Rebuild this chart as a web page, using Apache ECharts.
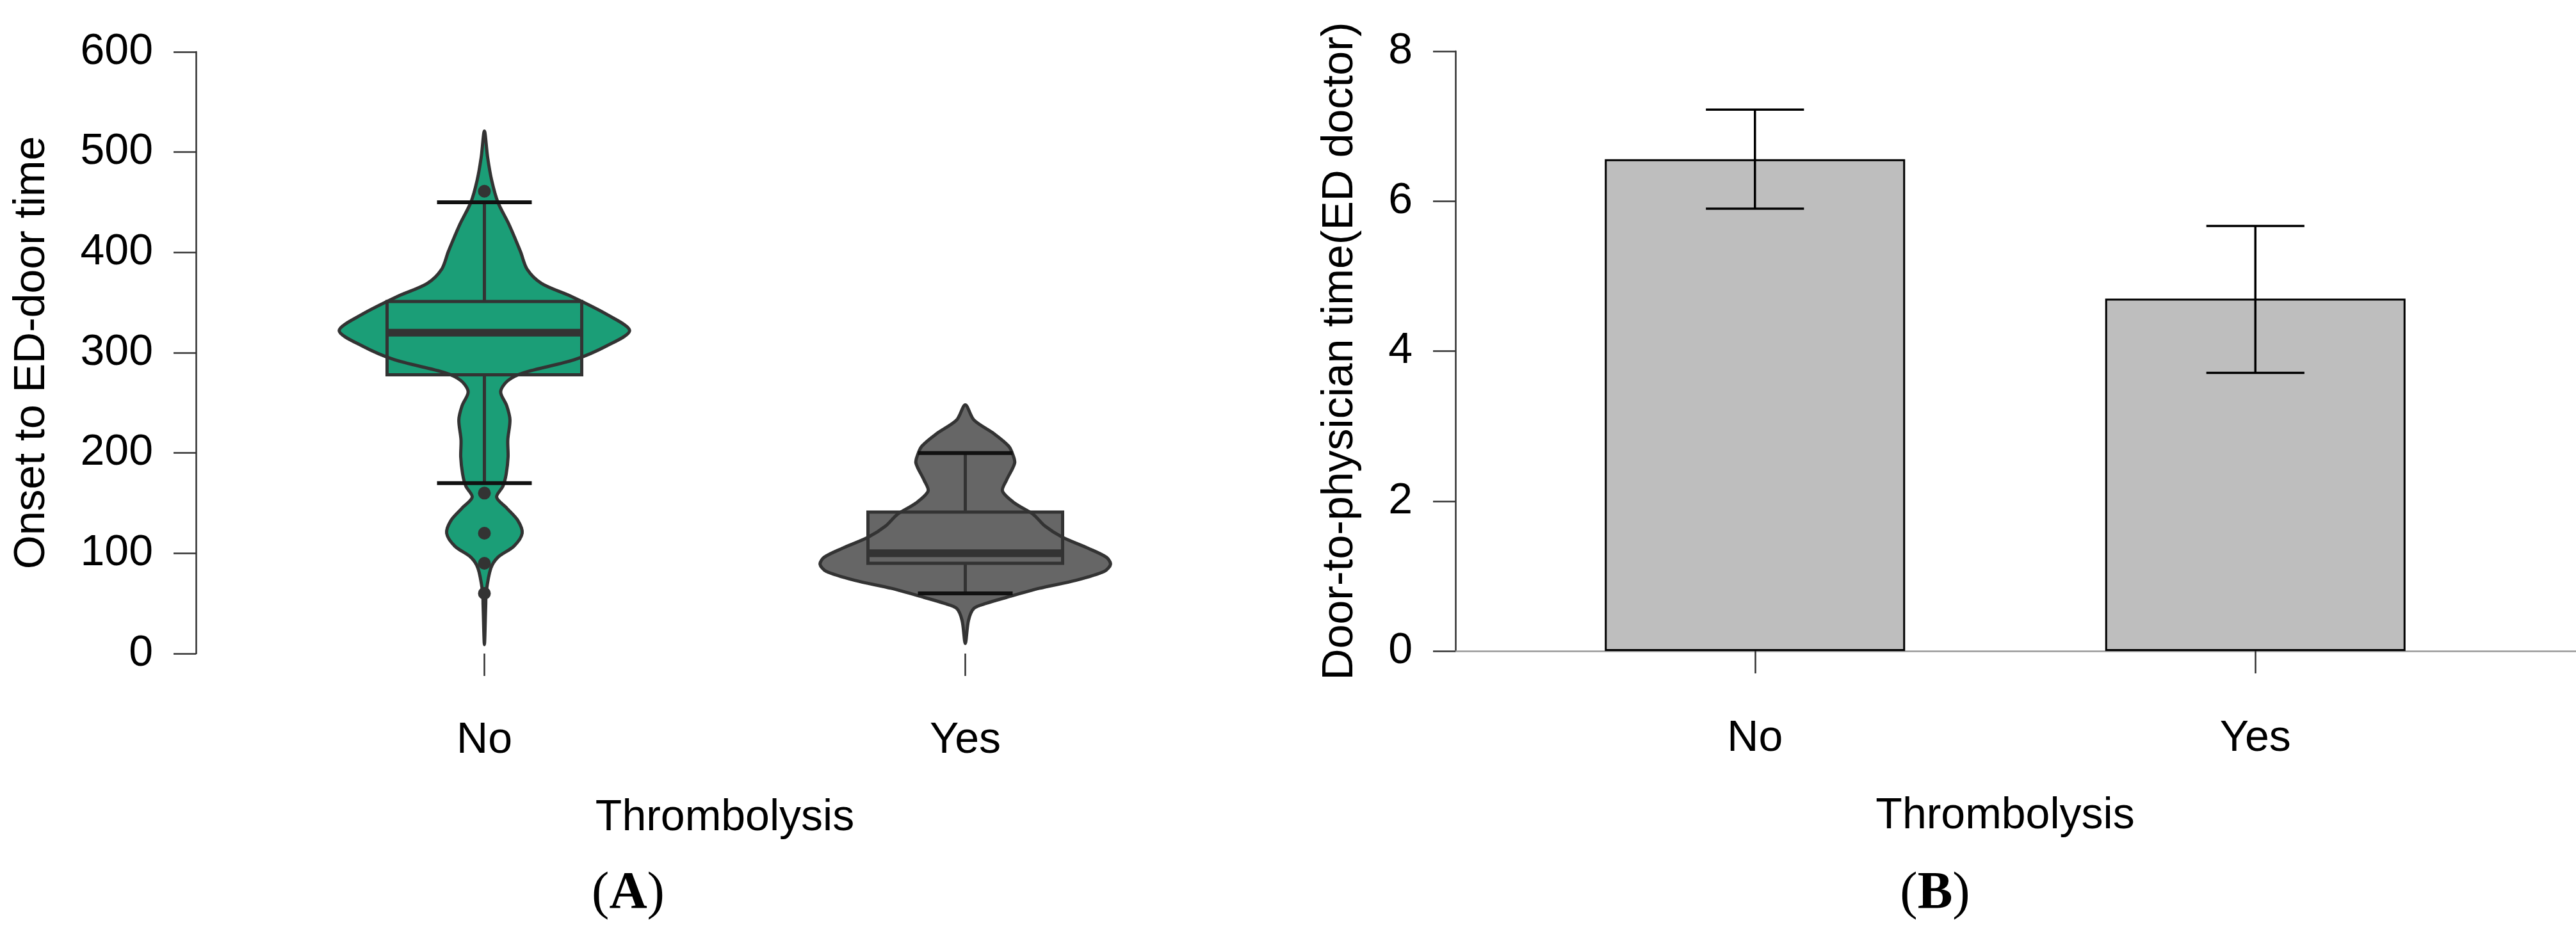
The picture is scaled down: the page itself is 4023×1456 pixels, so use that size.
<!DOCTYPE html>
<html><head><meta charset="utf-8">
<script src="https://cdn.jsdelivr.net/npm/echarts@6/dist/echarts.min.js"></script>
<style>html,body{margin:0;padding:0;background:#fff}#c{width:4023px;height:1456px}</style>
</head><body><div id="c"></div>
<script>
// ---------- data ----------
const categories = ['No', 'Yes'];

// Panel A: violin outlines (value, relative density; max = 1)
const violinNoValues  = [521, 495, 472, 450, 428, 401, 383, 369, 356, 338, 322, 307, 293, 280, 272, 261, 247, 233, 213, 196, 179, 167, 156, 145, 133, 120, 107, 96, 85, 62, 48, 9];
const violinNoDensity = [0, 0.022, 0.05, 0.093, 0.169, 0.248, 0.295, 0.394, 0.6, 0.845, 1.0, 0.845, 0.62, 0.27, 0.16, 0.112, 0.154, 0.176, 0.161, 0.163, 0.15, 0.128, 0.084, 0.154, 0.229, 0.26, 0.203, 0.093, 0.044, 0.013, 0.009, 0];
const violinYesValues  = [248, 233, 219, 207, 199, 190, 173, 162, 150, 139, 127, 116, 105, 96, 89, 82, 73, 65, 56, 50, 45, 33, 10];
const violinYesDensity = [0, 0.059, 0.2, 0.298, 0.326, 0.34, 0.284, 0.256, 0.34, 0.466, 0.55, 0.669, 0.846, 0.972, 1.0, 0.958, 0.761, 0.508, 0.284, 0.143, 0.059, 0.022, 0];
// box stats: [lower whisker, Q1, median, Q3, upper whisker]
const boxNo  = [170, 278, 320, 351, 450];
const boxYes = [60, 90, 100, 141, 200];
const outliersNo  = [461, 160, 120, 90, 60];
const outliersYes = [];
const yTicksA = { min: 0, max: 600, interval: 100 };

// Panel B: bar means with error bars
const barMeans = [6.56, 4.70];
const barLower = [5.90, 3.71];
const barUpper = [7.22, 5.67];
const yTicksB = { min: 0, max: 8, interval: 2 };

// ---------- styling ----------
const FONT = 'Liberation Sans, Arial, Helvetica, sans-serif';
const violinColors = ['#1b9e77', '#666666'];
const violinValues = [violinNoValues, violinYesValues];
const violinDensity = [violinNoDensity, violinYesDensity];
const boxStats = [boxNo, boxYes];
const outliers = [outliersNo, outliersYes];

function renderViolin(params, api) {
  const i = api.value(0);
  const vals = violinValues[i], dens = violinDensity[i], box = boxStats[i];
  const band = api.size([1, 0])[0];
  const cx = api.coord([i, 0])[0];
  const W = band * 0.302, BW = band * 0.2024, CW = band * 0.0985;
  const y = v => api.coord([i, v])[1];
  const right = vals.map((v, k) => [cx + dens[k] * W, y(v)]);
  const left = [];
  for (let k = vals.length - 2; k >= 1; k--) left.push([cx - dens[k] * W, y(vals[k])]);
  const pts = right.concat(left);
  const color = violinColors[i];
  const ln = (x1, y1, x2, y2, stroke, lw) => ({ type: 'line', shape: { x1, y1, x2, y2 }, style: { stroke, lineWidth: lw } });
  const children = [
    { type: 'polygon', shape: { points: pts, smooth: 0.3 }, style: { fill: color, stroke: null } },
    { type: 'rect', shape: { x: cx - BW, y: y(box[3]), width: 2 * BW, height: y(box[1]) - y(box[3]) }, style: { fill: color, stroke: '#333', lineWidth: 5 } },
    { type: 'polygon', shape: { points: pts, smooth: 0.3 }, style: { fill: null, stroke: '#333', lineWidth: 5 } },
    ln(cx, y(box[3]), cx, y(box[4]), '#333', 5),
    ln(cx, y(box[1]), cx, y(box[0]), '#333', 5),
    ln(cx - CW, y(box[4]), cx + CW, y(box[4]), '#111', 6),
    ln(cx - CW, y(box[0]), cx + CW, y(box[0]), '#111', 6),
    ln(cx - BW, y(box[2]), cx + BW, y(box[2]), '#333', 12)
  ];
  outliers[i].forEach(v => children.push({ type: 'circle', shape: { cx, cy: y(v), r: 10 }, style: { fill: '#333' } }));
  return { type: 'group', children };
}

function renderErr(params, api) {
  const i = api.value(0);
  const band = api.size([1, 0])[0];
  const lo = api.coord([i, api.value(1)]);
  const hi = api.coord([i, api.value(2)]);
  const cw = band * 0.098;
  const st = { stroke: '#000', lineWidth: 3.5 };
  return { type: 'group', children: [
    { type: 'line', shape: { x1: lo[0], y1: lo[1], x2: hi[0], y2: hi[1] }, style: st },
    { type: 'line', shape: { x1: lo[0] - cw, y1: lo[1], x2: lo[0] + cw, y2: lo[1] }, style: st },
    { type: 'line', shape: { x1: hi[0] - cw, y1: hi[1], x2: hi[0] + cw, y2: hi[1] }, style: st }
  ]};
}

const axisText = { fontSize: 68, color: '#000', fontFamily: FONT };
const tickLine = { color: '#333', width: 2.5 };

const chart = echarts.init(document.getElementById('c'), null, { renderer: 'canvas' });
chart.setOption({
  animation: false,
  backgroundColor: '#fff',
  grid: [
    { left: 381, width: 1502, top: 81, bottom: 435, outerBoundsMode: 'none' },
    { left: 2350, width: 1563, top: 80, bottom: 439, outerBoundsMode: 'none' },
    { left: 2273, right: 0, top: 80, bottom: 439, outerBoundsMode: 'none' }
  ],
  xAxis: [
    { type: 'category', gridIndex: 0, data: categories, offset: 47,
      axisLine: { show: false }, axisTick: { show: true, alignWithLabel: true, length: 35, lineStyle: tickLine },
      axisLabel: Object.assign({ margin: 55 }, axisText), splitLine: { show: false },
      name: 'Thrombolysis', nameLocation: 'middle', nameGap: 176, nameTextStyle: axisText },
    { type: 'category', gridIndex: 1, data: categories, offset: 48,
      axisLine: { show: false }, axisTick: { show: true, alignWithLabel: true, length: 35, lineStyle: tickLine },
      axisLabel: Object.assign({ margin: 55 }, axisText), splitLine: { show: false },
      name: 'Thrombolysis', nameLocation: 'middle', nameGap: 176, nameTextStyle: axisText },
    { type: 'value', gridIndex: 2, min: 0, max: 1,
      axisLine: { show: true, lineStyle: { color: '#999', width: 2.5 } }, axisTick: { show: false },
      axisLabel: { show: false }, splitLine: { show: false } }
  ],
  yAxis: [
    { type: 'value', gridIndex: 0, min: yTicksA.min, max: yTicksA.max, interval: yTicksA.interval, offset: 75,
      axisLine: { show: true, lineStyle: tickLine }, axisTick: { show: true, length: 35, lineStyle: tickLine },
      axisLabel: Object.assign({ margin: 67 }, axisText), splitLine: { show: false },
      name: 'Onset to ED-door time', nameLocation: 'middle', nameGap: 222, nameTextStyle: axisText },
    { type: 'value', gridIndex: 1, min: yTicksB.min, max: yTicksB.max, show: false, splitLine: { show: false } },
    { type: 'value', gridIndex: 2, min: yTicksB.min, max: yTicksB.max, interval: yTicksB.interval,
      axisLine: { show: true, lineStyle: tickLine }, axisTick: { show: true, length: 35, lineStyle: tickLine },
      axisLabel: Object.assign({ margin: 67 }, axisText), splitLine: { show: false },
      name: 'Door-to-physician time(ED doctor)', nameLocation: 'middle', nameGap: 146, nameTextStyle: axisText }
  ],
  series: [
    { type: 'custom', xAxisIndex: 0, yAxisIndex: 0, renderItem: renderViolin,
      data: categories.map((c, i) => [i, boxStats[i][2]]), clip: false, z: 3 },
    { type: 'bar', xAxisIndex: 1, yAxisIndex: 1, data: barMeans, barWidth: 469,
      itemStyle: { color: '#bebebe', borderColor: '#000', borderWidth: 3 }, z: 3 },
    { type: 'custom', xAxisIndex: 1, yAxisIndex: 1, renderItem: renderErr,
      data: categories.map((c, i) => [i, barLower[i], barUpper[i]]), z: 4 }
  ],
  graphic: [
    { type: 'text', x: 981, y: 1397, style: { text: '{p|(}{b|A}{p|)}', align: 'center', verticalAlign: 'middle',
      rich: { p: { fontSize: 82, fontFamily: 'Liberation Serif, Times New Roman, serif', fill: '#000' },
              b: { fontSize: 82, fontWeight: 'bold', fontFamily: 'Liberation Serif, Times New Roman, serif', fill: '#000' } } } },
    { type: 'text', x: 3022, y: 1397, style: { text: '{p|(}{b|B}{p|)}', align: 'center', verticalAlign: 'middle',
      rich: { p: { fontSize: 82, fontFamily: 'Liberation Serif, Times New Roman, serif', fill: '#000' },
              b: { fontSize: 82, fontWeight: 'bold', fontFamily: 'Liberation Serif, Times New Roman, serif', fill: '#000' } } } }
  ]
});
</script></body></html>
